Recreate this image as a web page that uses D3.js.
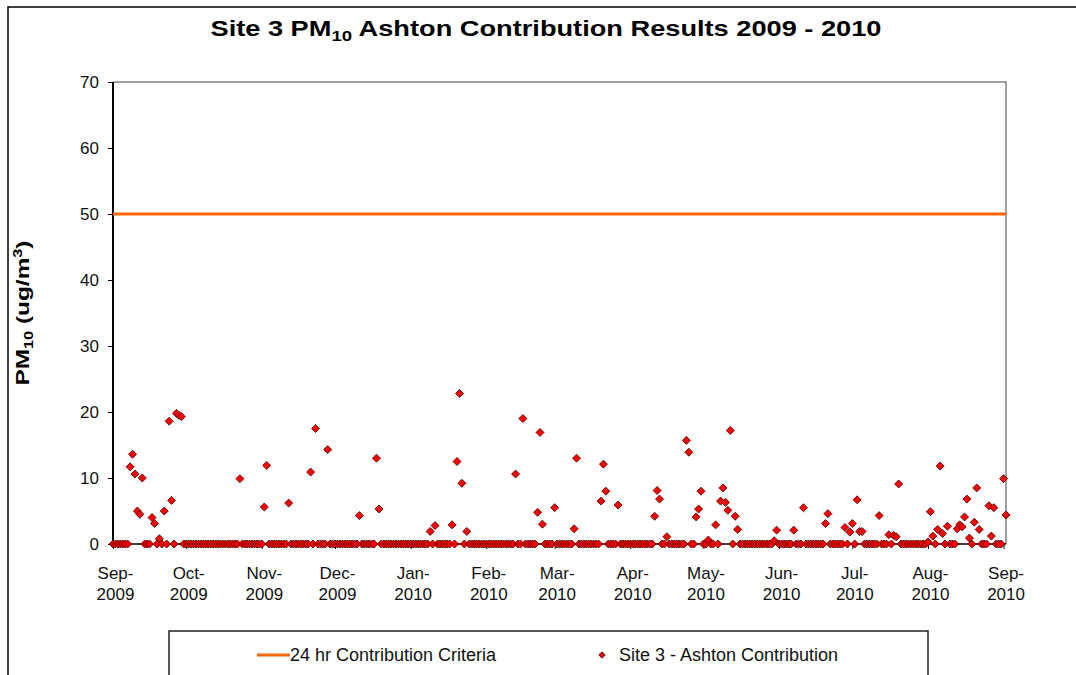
<!DOCTYPE html>
<html>
<head>
<meta charset="utf-8">
<script src="https://cdn.jsdelivr.net/npm/d3@7"></script>
<style>
  body { margin: 0; background: #fff; }
  svg { display: block; font-family: "Liberation Sans", Arial, sans-serif; }
</style>
</head>
<body>
<script>
// daily Ashton contribution, ug/m3, one line per month starting 1 Sep 2009
var sep2009 = [0,0,0,0,0,0,0,11.7,13.6,10.6, 5.0,4.5,10.0,0,0,0,4.0,3.1,0,0.8, 0,5.0,0,18.6,6.6,0,19.8,19.5,19.3,0];
var oct2009 = [0,0,0,0,0,0,0,0,0,0, 0,0,0,0,0,0,0,0,0,0, 0,0,9.9,0,0,0,0,0,0,0, 0];
var nov2009 = [0,5.6,11.9,0,0,0,0,0,0,0, 0,6.2,0,0,0,0,0,0,0,0, 10.9,0,17.5,0,0,0,0,14.3,0,0];
var dec2009 = [0,0,0,0,0,0,0,0,0,0, 4.3,0,0,0,0,0,0,13.0,5.3,0, 0,0,0,0,0,0,0,0,0,0, 0];
var jan2010 = [0,0,0,0,0,0,0,0,1.9,0, 2.8,0,0,0,0,0,0,2.9,0,12.5, 22.8,9.2,0,1.9,0,0,0,0,0,0, 0];
var feb2010 = [0,0,0,0,0,0,0,0,0,0, 0,0,10.6,0,0,19.0,0,0,0,0, 0,4.8,16.9,3.0,0,0,0,0];
var mar2010 = [5.5,0,0,0,0,0,0,0,2.3,13.0, 0,0,0,0,0,0,0,0,0,6.5, 12.1,8.0,0,0,0,0,5.9,0,0,0, 0];
var apr2010 = [0,0,0,0,0,0,0,0,0,0, 4.2,8.1,6.8,0,0,1.1,0,0,0,0, 0,0,0,15.7,13.9,0,0,4.1,5.3,8.0];
var may2010 = [0,0,0.6,0,0,2.9,0,6.5,8.5,6.3, 5.1,17.2,0,4.2,2.2,0,0,0,0,0, 0,0,0,0,0,0,0,0,0,0.5, 2.1];
var jun2010 = [0,0,0,0,0,0,2.1,0,0,0, 5.5,0,0,0,0,0,0,0,0,3.1, 4.6,0,0,0,0,0,0,2.5,0,1.8];
var jul2010 = [3.1,0,6.7,1.9,1.9,0,0,0,0,0, 0,4.3,0,0,0,1.4,0,1.3,1.1,9.1, 0,0,0,0,0,0,0,0,0,0, 0];
var aug2010 = [0.3,4.9,1.2,0,2.2,11.8,1.6,0,2.7,0, 0,0,2.3,2.9,2.6,4.1,6.8,0.9,0,3.3, 8.5,2.2,0,0,0,5.8,1.2,5.5,0,0, 0];
var sep2010 = [9.9,4.4];

var criteria = 50;   // 24 hr contribution criteria
var yTicks = [0, 10, 20, 30, 40, 50, 60, 70];
var monthLabels = ['Sep-2009','Oct-2009','Nov-2009','Dec-2009','Jan-2010','Feb-2010','Mar-2010',
                   'Apr-2010','May-2010','Jun-2010','Jul-2010','Aug-2010','Sep-2010'];

var pm10 = [].concat(sep2009, oct2009, nov2009, dec2009, jan2010, feb2010, mar2010,
                     apr2010, may2010, jun2010, jul2010, aug2010, sep2010);
var startDate = new Date(2009, 8, 1);
var points = pm10.map(function(v, i) {
  return { date: d3.timeDay.offset(startDate, i), value: v };
});
var monthTicks = monthLabels.map(function(m, i) { return d3.timeMonth.offset(startDate, i); });

var svgWidth = 1076, svgHeight = 675;
// plot box (note: "top" is taken by window.top)
var plotL = 113, plotR = 1006, plotT = 82, plotB = 544;

var svg = d3.select('body').append('svg').attr('width', svgWidth).attr('height', svgHeight);

var x = d3.scaleTime().domain([startDate, new Date(2010, 8, 2)]).range([plotL, plotR]);
var y = d3.scaleLinear().domain([0, 70]).range([plotB, plotT]);

// outer chart border
svg.append('rect')
  .attr('x', 8).attr('y', 7).attr('width', 1100).attr('height', 700)
  .attr('fill', 'none').attr('stroke', '#000').attr('stroke-width', 1.5);

// title
var title = svg.append('text')
  .attr('x', 546).attr('y', 36)
  .attr('text-anchor', 'middle')
  .attr('font-size', 22).attr('font-weight', 'bold')
  .attr('textLength', 671).attr('lengthAdjust', 'spacingAndGlyphs');
title.append('tspan').text('Site 3 PM');
title.append('tspan').attr('font-size', 15).attr('dy', 5).text('10');
title.append('tspan').attr('dy', -5).text(' Ashton Contribution Results 2009 - 2010');

// plot frame top / right
svg.append('path')
  .attr('d', 'M' + plotL + ',' + plotT + 'H' + plotR + 'V' + plotB)
  .attr('fill', 'none').attr('stroke', '#808080').attr('stroke-width', 1.5);

// y axis
var yAxis = svg.append('g')
  .attr('transform', 'translate(' + plotL + ',0)')
  .call(d3.axisLeft(y).tickValues(yTicks).tickSize(5).tickPadding(9).tickFormat(d3.format('d')));
yAxis.select('.domain').attr('stroke', '#000').attr('stroke-width', 2).attr('d', 'M0,' + plotT + 'V' + plotB);
yAxis.selectAll('.tick line').attr('stroke', '#000');
yAxis.selectAll('.tick text')
  .attr('font-size', 17).attr('fill', '#111')
  .attr('font-family', '"Liberation Sans", Arial, sans-serif');

// x axis
var xAxis = svg.append('g')
  .attr('transform', 'translate(0,' + plotB + ')')
  .call(d3.axisBottom(x).tickValues(monthTicks).tickSize(5).tickFormat(''));
xAxis.select('.domain').attr('stroke', '#000').attr('stroke-width', 1.5).attr('d', 'M' + plotL + ',0H' + plotR);
xAxis.selectAll('.tick line').attr('stroke', '#000');
xAxis.selectAll('.tick').each(function(d, i) {
  var parts = monthLabels[i].split('-');
  var t = d3.select(this).append('text')
    .attr('fill', '#111').attr('font-size', 17)
    .attr('font-family', '"Liberation Sans", Arial, sans-serif')
    .attr('text-anchor', 'middle');
  t.append('tspan').attr('x', 2).attr('y', 35).text(parts[0] + '-');
  t.append('tspan').attr('x', 2).attr('y', 56).text(parts[1]);
});

// y label
var ylab = svg.append('text')
  .attr('transform', 'translate(29,313) rotate(-90)')
  .attr('text-anchor', 'middle')
  .attr('font-size', 18).attr('font-weight', 'bold')
  .attr('textLength', 145).attr('lengthAdjust', 'spacingAndGlyphs');
ylab.append('tspan').text('PM');
ylab.append('tspan').attr('font-size', 12).attr('dy', 4).text('10');
ylab.append('tspan').attr('dy', -4).text(' (ug/m');
ylab.append('tspan').attr('font-size', 12).attr('dy', -7).text('3');
ylab.append('tspan').attr('dy', 7).text(')');

// criteria line
svg.append('line')
  .attr('x1', plotL).attr('x2', plotR)
  .attr('y1', y(criteria)).attr('y2', y(criteria))
  .attr('stroke', '#ff6600').attr('stroke-width', 3);

// markers
var diamond = d3.symbol().type(d3.symbolSquare).size(32);
svg.append('g').selectAll('path')
  .data(points)
  .enter()
  .append('path')
  .attr('d', diamond)
  .attr('transform', function(d) {
    return 'translate(' + x(d.date) + ',' + y(d.value) + ') rotate(45)';
  })
  .attr('fill', '#ff0000')
  .attr('stroke', '#4a0000')
  .attr('stroke-width', 0.8);

// legend
svg.append('rect')
  .attr('x', 169).attr('y', 631).attr('width', 759).attr('height', 60)
  .attr('fill', '#fff').attr('stroke', '#222').attr('stroke-width', 1.5);
svg.append('line')
  .attr('x1', 257).attr('x2', 290).attr('y1', 655).attr('y2', 655)
  .attr('stroke', '#ff6600').attr('stroke-width', 3);
svg.append('text')
  .attr('x', 290).attr('y', 661).attr('font-size', 18).attr('fill', '#111')
  .text('24 hr Contribution Criteria');
svg.append('path')
  .attr('d', d3.symbol().type(d3.symbolSquare).size(20))
  .attr('transform', 'translate(602,655) rotate(45)')
  .attr('fill', '#ee0000').attr('stroke', '#4a0000').attr('stroke-width', 0.8);
svg.append('text')
  .attr('x', 619).attr('y', 661).attr('font-size', 18).attr('fill', '#111')
  .text('Site 3 - Ashton Contribution');
</script>
</body>
</html>
